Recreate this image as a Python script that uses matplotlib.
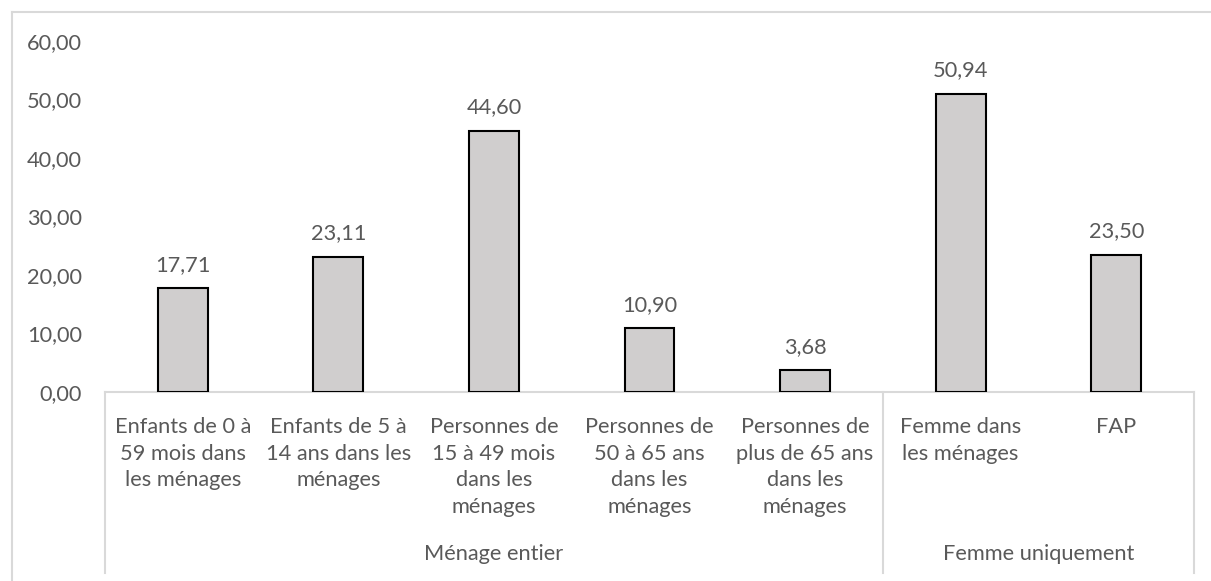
import matplotlib
matplotlib.use('Agg')
import matplotlib.pyplot as plt
import matplotlib.transforms as mtransforms
from matplotlib.lines import Line2D
import numpy as np

categories = ['Enfants de 0 à\n59 mois dans\nles ménages',
              'Enfants de 5 à\n14 ans dans les\nménages',
              'Personnes de\n15 à 49 mois\ndans les\nménages',
              'Personnes de\n50 à 65 ans\ndans les\nménages',
              'Personnes de\nplus de 65 ans\ndans les\nménages',
              'Femme dans\nles ménages',
              'FAP']
values = [17.71, 23.11, 44.60, 10.90, 3.68, 50.94, 23.50]
groups = ['Ménage entier', 'Femme uniquement']
group_sizes = [5, 2]
yticks = [0, 10, 20, 30, 40, 50, 60]

W, H = 1211, 581
txt_col = '#595959'
line_col = '#D9D9D9'
plt.rcParams['font.family'] = ['Lato', 'DejaVu Sans']
fs = 15.7

fig = plt.figure(figsize=(W / 100, H / 100), dpi=100)
x0, x1 = 105, 1194
yb, yt = 392, 41
ax = fig.add_axes([x0 / W, 1 - yb / H, (x1 - x0) / W, (yb - yt) / H])

x = np.arange(len(values))
bars = ax.bar(x, values, width=0.32, color='#D0CECE', edgecolor='black', linewidth=1.5, zorder=3)

for xi, v in zip(x, values):
    ax.annotate(f'{v:.2f}'.replace('.', ','), xy=(xi, v), xytext=(0, 17),
                textcoords='offset points', ha='center', va='center',
                fontsize=fs, color=txt_col)

ax.set_xlim(-0.5, len(values) - 0.5)
ax.set_ylim(0, 60)
ax.set_yticks(yticks)
ax.set_yticklabels([f'{t:.2f}'.replace('.', ',') for t in yticks], fontsize=fs, color=txt_col)
ax.tick_params(axis='y', length=0, pad=16.5)
ax.set_xticks([])
for s in ['left', 'right', 'top']:
    ax.spines[s].set_visible(False)
ax.spines['bottom'].set_color(line_col)
ax.spines['bottom'].set_linewidth(1.5)

# category labels
for xi, lab in zip(x, categories):
    ax.annotate(lab, xy=(xi, 0), xycoords=('data', 'axes fraction'), xytext=(0, -18),
                textcoords='offset points', ha='center', va='top', fontsize=fs,
                color=txt_col, linespacing=1.42)

# group labels and separators
trans = mtransforms.blended_transform_factory(ax.transData, ax.transAxes)
ybot = -(573 - yb) / (yb - yt)
start = -0.5
bounds = [start]
for g, n in zip(groups, group_sizes):
    end = start + n
    ax.annotate(g, xy=((start + end) / 2, 0), xycoords=('data', 'axes fraction'),
                xytext=(0, -117), textcoords='offset points', ha='center', va='center',
                fontsize=fs, color=txt_col)
    bounds.append(end)
    start = end
for b in bounds:
    ax.add_line(Line2D([b, b], [0, ybot], transform=trans, color=line_col,
                       linewidth=1.5, clip_on=False))

# outer chart border
fig.add_artist(Line2D([11.5 / W, 1], [1 - 11.5 / H, 1 - 11.5 / H], color=line_col, linewidth=1.5))
fig.add_artist(Line2D([11.5 / W, 11.5 / W], [0, 1 - 11.5 / H], color=line_col, linewidth=1.5))

fig.savefig('out.png', dpi=100, facecolor='white')
